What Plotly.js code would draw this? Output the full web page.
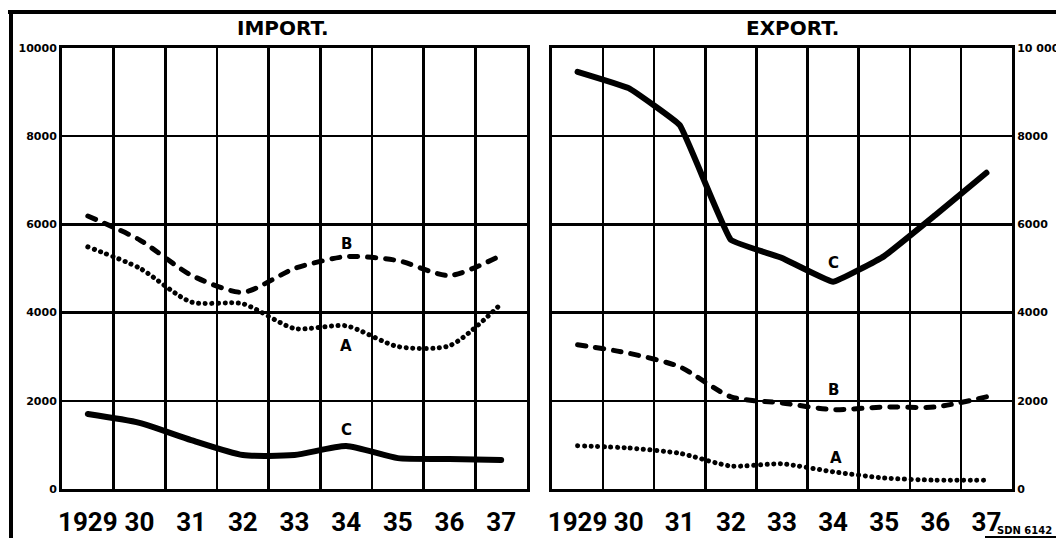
<!DOCTYPE html>
<html>
<head>
<meta charset="utf-8">
<script src="https://cdn.plot.ly/plotly-3.0.1.min.js"></script>
<style>
  html, body { margin: 0; padding: 0; background: #fff; }
  #chart { width: 1056px; height: 538px; }
  .js-line { stroke-linecap: round; stroke-linejoin: round; }
</style>
</head>
<body>
<div id="chart"></div>
<script>
// ---- data ----
const years = [1929, 1930, 1931, 1932, 1933, 1934, 1935, 1936, 1937];
const xLabels = ["1929", "30", "31", "32", "33", "34", "35", "36", "37"];

const importA = [5490, 5010, 4240, 4200, 3640, 3700, 3230, 3250, 4200];
const importB = [6190, 5650, 4850, 4460, 5000, 5270, 5180, 4840, 5300];
const importC = [1700, 1500, 1110, 770, 770, 975, 700, 680, 660];

const exportA = [980, 930, 810, 520, 570, 390, 250, 200, 200];
const exportB = [3270, 3080, 2770, 2090, 1950, 1800, 1860, 1860, 2090];
const exportC = [9460, 9090, 8250, 5650, 5240, 4700, 5280, 6210, 7170];

const yTicks = [0, 2000, 4000, 6000, 8000, 10000];
const yLeftLabels = ["0", "2000", "4000", "6000", "8000", "10000"];
const yRightLabels = ["0", "2000", "4000", "6000", "8000", "10 000"];

const panelTitles = ["IMPORT.", "EXPORT."];
const seriesNames = ["A", "B", "C"];
const footnote = "SDN 6142";

// ---- styling ----
const W = 1056, H = 538;
const px = v => v / W, py = v => 1 - v / H;
const styles = {
  A: { color: "#000", width: 5, dash: "0.1px,6.5px" },
  B: { color: "#000", width: 5, dash: "8px,10px" },
  C: { color: "#000", width: 6, dash: "solid" }
};

function trace(y, name, xa, ya, smoothing) {
  return {
    x: years, y: y, name: name, xaxis: xa, yaxis: ya,
    mode: "lines", type: "scatter", hoverinfo: "skip",
    line: Object.assign({ shape: "spline", smoothing: smoothing }, styles[name])
  };
}

const data = [
  trace(importA, "A", "x", "y", 0.7),
  trace(importB, "B", "x", "y", 0.7),
  trace(importC, "C", "x", "y", 0.6),
  trace(exportA, "A", "x2", "y2", 0.6),
  trace(exportB, "B", "x2", "y2", 0.7),
  trace(exportC, "C", "x2", "y2", 0.25)
];

const gridCol = "#000";
function xaxis(domain) {
  return {
    domain: domain, range: [1928.5, 1937.5],
    tickmode: "array", tickvals: years, ticktext: xLabels,
    showgrid: false, zeroline: false,
    showline: true, mirror: true, linewidth: 3, linecolor: "#000",
    ticks: "outside", ticklen: 8, tickcolor: "rgba(0,0,0,0)",
    tickfont: { family: "Roboto, 'DejaVu Sans', sans-serif", size: 26, color: "#000", weight: "bold" },
    minor: { tick0: 1928.5, dtick: 1, showgrid: true, gridcolor: gridCol, gridwidth: 2.5, ticks: "" },
    fixedrange: true
  };
}
function yaxis(anchor, side, labels) {
  return {
    anchor: anchor, side: side,
    domain: [py(489), py(48)], range: [0, 10000],
    tickmode: "array", tickvals: yTicks, ticktext: labels,
    showgrid: true, gridcolor: gridCol, gridwidth: 2.5, zeroline: false,
    showline: true, mirror: true, linewidth: 3, linecolor: "#000",
    ticks: "", tickfont: { family: "'DejaVu Sans', sans-serif", size: 11, color: "#000", weight: "bold" },
    fixedrange: true
  };
}

const lblFont = { family: "'DejaVu Sans', sans-serif", size: 15, color: "#000", weight: "bold" };
function lbl(x, y, text, xr, yr) {
  return { x: x, y: y, xref: xr, yref: yr, text: text, showarrow: false, font: lblFont,
           xanchor: "center", yanchor: "middle" };
}
const titleFont = { family: "'DejaVu Sans', sans-serif", size: 20, color: "#000", weight: "bold" };

const layout = {
  width: W, height: H,
  margin: { l: 0, r: 0, t: 0, b: 0 },
  paper_bgcolor: "#fff", plot_bgcolor: "#fff",
  showlegend: false,
  xaxis: xaxis([px(62), px(527)]),
  yaxis: yaxis("x", "left", yLeftLabels),
  xaxis2: xaxis([px(552), px(1012)]),
  yaxis2: yaxis("x2", "right", yRightLabels),
  annotations: [
    { x: px(283), y: py(28), xref: "paper", yref: "paper", xanchor: "center", yanchor: "middle",
      text: panelTitles[0], showarrow: false, font: titleFont },
    { x: px(792), y: py(28), xref: "paper", yref: "paper", xanchor: "center", yanchor: "middle",
      text: panelTitles[1], showarrow: false, font: titleFont },
    lbl(1934.0, 5550, seriesNames[1], "x", "y"),
    lbl(1934.0, 3250, seriesNames[0], "x", "y"),
    lbl(1934.0, 1340, seriesNames[2], "x", "y"),
    lbl(1934.0, 5125, seriesNames[2], "x2", "y2"),
    lbl(1934.0, 2250, seriesNames[1], "x2", "y2"),
    lbl(1934.05, 700, seriesNames[0], "x2", "y2"),
    { x: px(1054), y: py(530), xref: "paper", yref: "paper", xanchor: "right", yanchor: "middle",
      text: footnote, showarrow: false,
      font: { family: "'DejaVu Sans', sans-serif", size: 10, color: "#000", weight: "bold" } }
  ],
  shapes: [
    { type: "line", xref: "paper", yref: "paper", x0: px(8), x1: 1, y0: py(12), y1: py(12), line: { color: "#000", width: 4 } },
    { type: "line", xref: "paper", yref: "paper", x0: px(11), x1: px(11), y0: py(12), y1: 0, line: { color: "#000", width: 4 } },
    { type: "line", xref: "paper", yref: "paper", x0: px(985), x1: 1, y0: py(537), y1: py(537), line: { color: "#000", width: 2 } }
  ]
};

Plotly.newPlot("chart", data, layout, { staticPlot: true, displayModeBar: false });
</script>
</body>
</html>
